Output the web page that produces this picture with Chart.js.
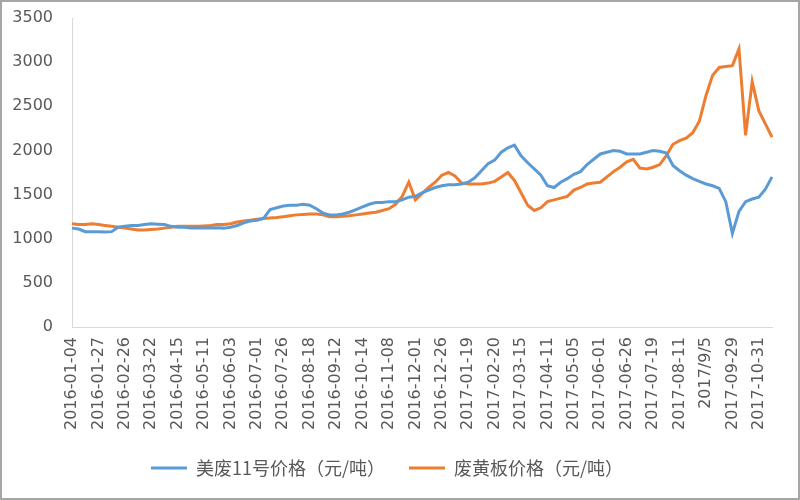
<!DOCTYPE html>
<html lang="zh">

<head>
    <title>美废11号 / 废黄板价格</title>
    <meta charset="utf-8">
    <script src="https://cdn.jsdelivr.net/npm/chart.js@4.4.1/dist/chart.umd.min.js"></script>
    <style>
        body { margin: 0; background: #fff; }
        .frame { width: 800px; height: 500px; box-sizing: border-box; border: 2px solid #a6a6a6; background: #fff; }
        .frame canvas { display: block; }
    </style>
</head>

<body>
    <div class="frame">
        <canvas id="line-chart" width="796" height="496"></canvas>
    </div>
    <script>
        // tick labels on the x axis, one every 4 points
        const tickLabels = ["2016-01-04", "2016-01-27", "2016-02-26", "2016-03-22", "2016-04-15", "2016-05-11", "2016-06-03",
            "2016-07-01", "2016-07-26", "2016-08-18", "2016-09-12", "2016-10-14", "2016-11-08", "2016-12-01", "2016-12-26",
            "2017-01-19", "2017-02-20", "2017-03-15", "2017-04-11", "2017-05-05", "2017-06-01", "2017-06-26", "2017-07-19",
            "2017-08-11", "2017/9/5", "2017-09-29", "2017-10-31"];
        const seriesNames = ["美废11号价格（元/吨）", "废黄板价格（元/吨）"];
        const yTicks = [0, 500, 1000, 1500, 2000, 2500, 3000, 3500];

        // 美废11号价格
        const meifei = [1120, 1110, 1080, 1080, 1080, 1075, 1080, 1130, 1140, 1150,
            1150, 1160, 1170, 1165, 1160, 1140, 1130, 1130, 1120, 1120,
            1120, 1120, 1125, 1120, 1130, 1150, 1180, 1200, 1210, 1230,
            1330, 1350, 1370, 1380, 1380, 1390, 1380, 1340, 1290, 1270,
            1270, 1280, 1300, 1330, 1360, 1390, 1410, 1410, 1420, 1420,
            1440, 1470, 1480, 1520, 1550, 1580, 1600, 1610, 1610, 1620,
            1640, 1690, 1770, 1850, 1890, 1980, 2030, 2060, 1940, 1860,
            1790, 1720, 1600, 1580, 1640, 1680, 1730, 1760, 1840, 1900,
            1960, 1980, 2000, 1990, 1960, 1960, 1960, 1980, 2000, 1990,
            1970, 1830, 1770, 1720, 1680, 1650, 1620, 1600, 1570, 1420,
            1060, 1310, 1420, 1450, 1470, 1560, 1700];

        // 废黄板价格
        const huangban = [1170, 1160, 1160, 1170, 1160, 1150, 1140, 1130, 1120, 1110,
            1100, 1100, 1105, 1110, 1120, 1130, 1140, 1140, 1140, 1140,
            1145, 1150, 1160, 1160, 1170, 1190, 1200, 1210, 1220, 1230,
            1235, 1240, 1250, 1260, 1270, 1275, 1280, 1280, 1270, 1250,
            1250, 1255, 1260, 1270, 1280, 1290, 1300, 1320, 1340, 1390,
            1480, 1640, 1440, 1510, 1580, 1640, 1720, 1750, 1710, 1630,
            1620, 1620, 1620, 1630, 1650, 1700, 1750, 1660, 1520, 1380,
            1320, 1350, 1420, 1440, 1460, 1480, 1550, 1580, 1620, 1630,
            1640, 1700, 1760, 1810, 1870, 1900, 1800, 1790, 1810, 1840,
            1940, 2070, 2110, 2140, 2200, 2330, 2620, 2850, 2940, 2950,
            2960, 3150, 2170, 2780, 2450, 2300, 2150];

        let categories = meifei.map((v, i) => i % 4 === 0 ? (tickLabels[i / 4] || '') : '');

        const grey = '#595959';
        new Chart(document.getElementById("line-chart"), {
            type: 'line',
            data: {
                labels: categories,
                datasets: [{
                    label: seriesNames[0],
                    data: meifei,
                    borderColor: '#5B9BD5',
                    backgroundColor: '#5B9BD5',
                    borderWidth: 3,
                    pointRadius: 0,
                    fill: false
                }, {
                    label: seriesNames[1],
                    data: huangban,
                    borderColor: '#ED7D31',
                    backgroundColor: '#ED7D31',
                    borderWidth: 3,
                    pointRadius: 0,
                    fill: false
                }]
            },
            options: {
                responsive: false,
                animation: false,
                layout: { padding: { left: 0, right: 26, top: 16, bottom: 11 } },
                plugins: {
                    tooltip: { enabled: false },
                    legend: {
                        position: 'bottom',
                        labels: {
                            usePointStyle: true,
                            pointStyle: 'line',
                            pointStyleWidth: 36,
                            boxHeight: 17,
                            padding: 24,
                            color: grey,
                            font: { family: '"Noto Sans CJK SC"', size: 18 }
                        }
                    }
                },
                scales: {
                    x: {
                        offset: false,
                        grid: { display: false, drawTicks: false },
                        border: { color: '#d9d9d9' },
                        afterFit: (axis) => { axis.height = 108; axis.paddingLeft = 0; axis.paddingRight = 0; },
                        ticks: {
                            autoSkip: false,
                            maxRotation: 90,
                            minRotation: 90,
                            padding: 10,
                            color: grey,
                            font: { family: '"DejaVu Sans"', size: 16 }
                        }
                    },
                    y: {
                        min: 0,
                        max: 3500,
                        afterBuildTicks: (axis) => { axis.ticks = yTicks.map(v => ({ value: v })); },
                        afterFit: (axis) => { axis.width = 70; axis.paddingTop = 0; axis.paddingBottom = 0; },
                        grid: { display: false, drawTicks: false },
                        border: { color: '#d9d9d9' },
                        ticks: {
                            padding: 19,
                            color: grey,
                            font: { family: '"DejaVu Sans"', size: 16 },
                            callback: (v) => String(v)
                        }
                    }
                }
            }
        });
    </script>
</body>

</html>
